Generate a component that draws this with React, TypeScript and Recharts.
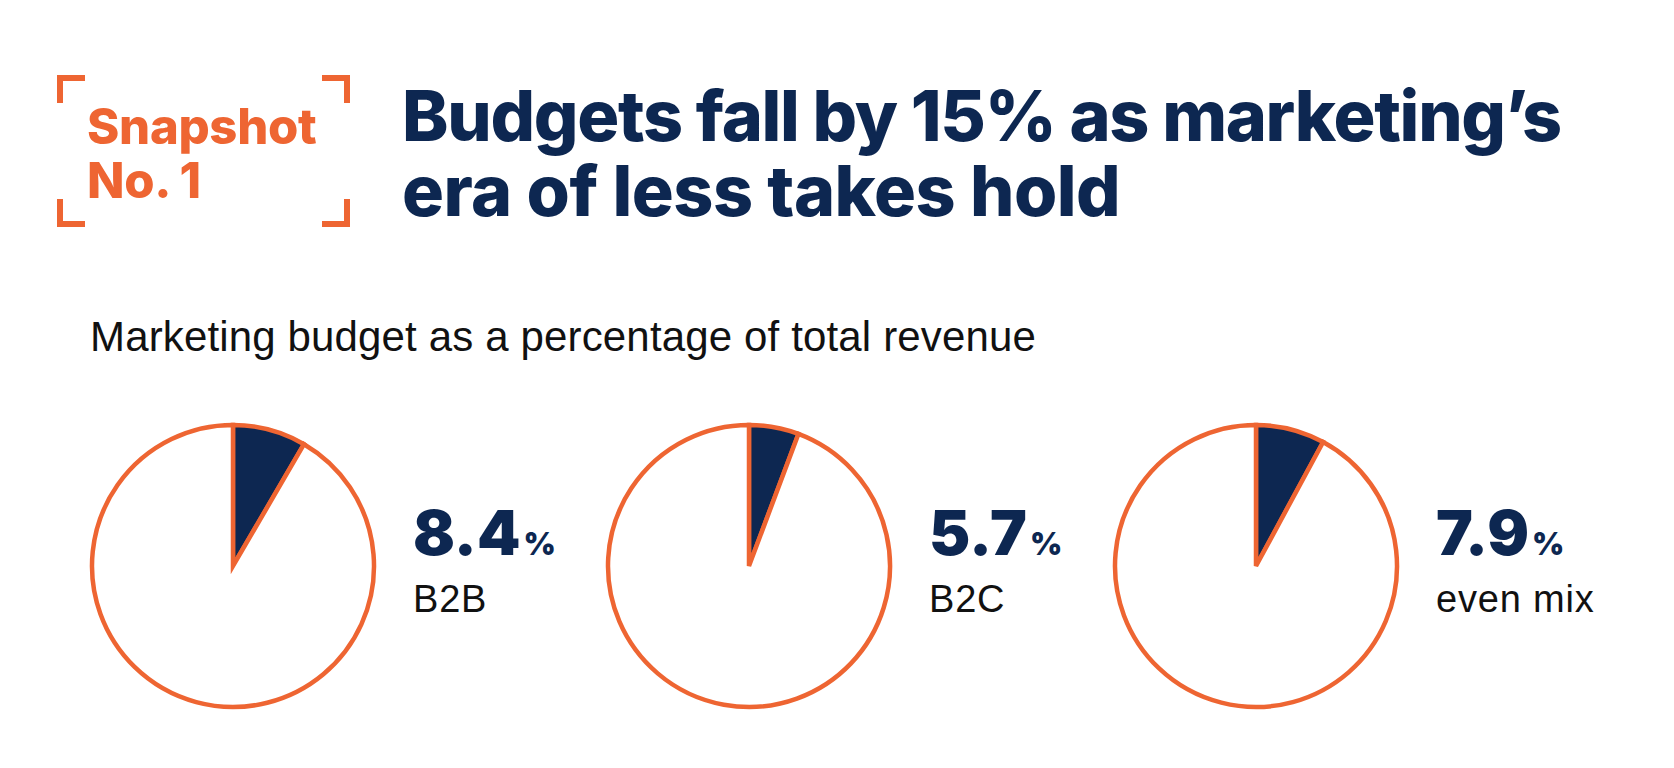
import React from "react";
import { Cell, Pie, PieChart } from "recharts";

const NAVY = "#0d2751";
const ORANGE = "#ee6532";

const segments = ["B2B", "B2C", "even mix"];
const budgetShare = [8.4, 5.7, 7.9];
const titleLines = ["Budgets fall by 15% as marketing’s", "era of less takes hold"];
const subtitle = "Marketing budget as a percentage of total revenue";

const W = 1674;
const H = 768;
const PIE_X = [233, 749, 1256];
const PIE_Y = 566;
const RADIUS = 141;

export default function App() {
  const pies = budgetShare.map((v, i) => ({
    name: segments[i],
    data: [
      { name: "budget", value: v },
      { name: "rest", value: 100 - v },
    ],
  }));

  return (
    <div
      style={{
        position: "absolute",
        left: 0,
        top: 0,
        width: W,
        height: H,
        background: "#fff",
      }}
    >
      <PieChart
        width={W}
        height={H}
        margin={{ top: 0, right: 0, bottom: 0, left: 0 }}
        style={{ position: "absolute", left: 0, top: 0 }}
      >
        {pies.map((p, i) => (
          <Pie
            key={p.name}
            data={p.data}
            dataKey="value"
            cx={PIE_X[i]}
            cy={PIE_Y}
            outerRadius={RADIUS}
            innerRadius={0}
            startAngle={90}
            endAngle={-270}
            stroke={ORANGE}
            strokeWidth={4.5}
            isAnimationActive={false}
          >
            <Cell fill={NAVY} strokeMiterlimit={12} />
            <Cell fill="#ffffff" />
          </Pie>
        ))}
      </PieChart>

      <svg
        width={W}
        height={H}
        style={{ position: "absolute", left: 0, top: 0, pointerEvents: "none" }}
      >
        {/* bracket frame */}
        <g fill="none" stroke={ORANGE} strokeWidth={6}>
          <path d="M60,103 V78 H85" />
          <path d="M322,78 H347 V103" />
          <path d="M60,199 V224 H85" />
          <path d="M322,224 H347 V199" />
        </g>
        <g fill={ORANGE} fontFamily="Inter" fontWeight={800} fontSize={49} letterSpacing={-0.3}>
          <text x={87} y={144}>Snapshot</text>
          <text x={87} y={198}>No. 1</text>
        </g>

        <g fill={NAVY} fontFamily="Inter" fontWeight={800} fontSize={70}>
          <text x={402} y={141} letterSpacing={-1.3}>{titleLines[0]}</text>
          <text x={402} y={216} letterSpacing={-0.5}>{titleLines[1]}</text>
        </g>

        <text
          x={90}
          y={351}
          fontFamily="Liberation Sans"
          fontSize={42}
          letterSpacing={0.15}
          fill="#111"
        >
          {subtitle}
        </text>

        {segments.map((s, i) => (
          <g key={s}>
            <text
              x={PIE_X[i] + 180}
              y={555}
              fill={NAVY}
              fontFamily="Inter"
              fontWeight={900}
            >
              <tspan fontSize={62}>{budgetShare[i].toFixed(1)}</tspan>
              <tspan fontSize={31} dx={3}>%</tspan>
            </text>
            <text
              x={PIE_X[i] + 180}
              y={612}
              fill="#111"
              fontFamily="Liberation Sans"
              fontSize={38}
              letterSpacing={0.8}
            >
              {s}
            </text>
          </g>
        ))}
      </svg>
    </div>
  );
}
